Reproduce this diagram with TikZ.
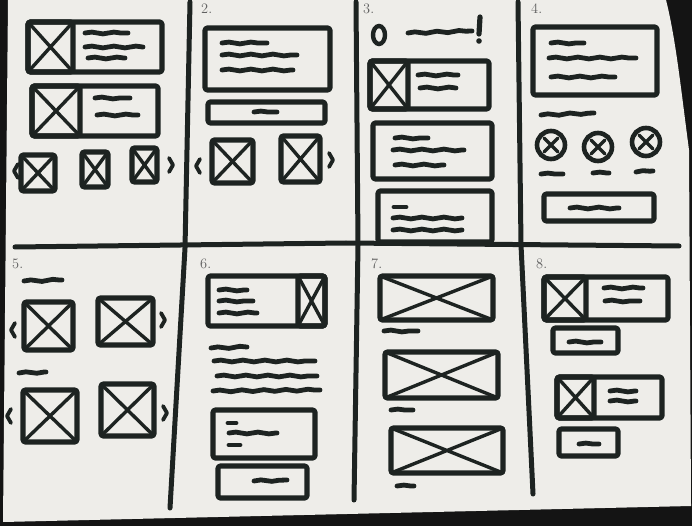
\documentclass[tikz,border=0pt]{standalone}
\usepackage{tikz}
\usetikzlibrary{decorations.pathmorphing}
\definecolor{inkc}{HTML}{1D2321}
\definecolor{paper}{HTML}{EEEDE9}
\definecolor{bgdark}{HTML}{141414}

\begin{document}
\begin{tikzpicture}[x=1pt,y=-1pt,
	ink/.style={draw=inkc, line width=5.2pt, line cap=round, line join=round, rounded corners=2.5pt},
	cross/.style={draw=inkc, line width=3.4pt, line cap=round},
	txt/.style={draw=inkc, line width=4.8pt, line cap=round, decorate, decoration={snake, amplitude=0.9pt, segment length=22pt}},
	rule/.style={draw=inkc, line width=5pt, line cap=round, line join=round},
	chev/.style={draw=inkc, line width=3.8pt, line cap=round, line join=round},
	num/.style={text=gray!75!black, font=\Large, anchor=west, inner sep=0pt}]
		\useasboundingbox (0,0) rectangle (692,526);
		\def\xbox#1#2#3#4{\draw[ink] (#1,#2) rectangle (#3,#4); \draw[cross] (#1,#2) -- (#3,#4) (#1,#4) -- (#3,#2);}
		\def\lt#1#2{\draw[chev] (#1+4,#2-7) -- (#1,#2) -- (#1+4,#2+7);}
		\def\gt#1#2{\draw[chev] (#1-4,#2-7) -- (#1,#2) -- (#1-4,#2+7);}

		% --- paper on the dark table ---
		\fill[bgdark] (0,0) rectangle (692,526);
		\fill[paper] (8,0) -- (666,0) .. controls (676,40) and (681,90) .. (689,150) -- (691,506) -- (3,522) -- cycle;

		% --- grid ---
		\draw[rule] (190,2) -- (185,248) -- (170,508);
		\draw[rule] (356,2) -- (358,245) -- (354,500);
		\draw[rule] (518,2) -- (521,245) -- (533,494);
		\draw[rule] (15,247) -- (346,243) -- (679,246);

		% --- PANEL 1: image rows and thumbnails ---
		\draw[ink] (28,22) rectangle (162,72);
		\xbox{28}{22}{73}{72}
		\draw[txt] (85,33) -- (128,33);
		\draw[txt] (85,47) -- (143,47);
		\draw[txt] (88,58) -- (125,58);
		\draw[ink] (32,86) rectangle (158,136);
		\xbox{32}{86}{80}{136}
		\draw[txt] (95,98) -- (130,98);
		\draw[txt] (97,115) -- (138,115);
		\xbox{21}{155}{55}{191}
		\xbox{82}{152}{108}{187}
		\xbox{132}{148}{157}{182}
		\lt{14}{171}
		\gt{173}{165}

		% --- PANEL 2: card, bar, carousel ---
		\node[num] (n2) at (201,9) {2.};
		\draw[ink] (205,28) rectangle (330,90);
		\draw[txt] (222,43) -- (267,43);
		\draw[txt] (222,55) -- (297,55);
		\draw[txt] (222,70) -- (293,70);
		\draw[ink] (208,102) rectangle (325,123);
		\draw[txt] (254,112) -- (277,112);
		\xbox{212}{140}{253}{183}
		\xbox{281}{136}{320}{182}
		\lt{196}{166}
		\gt{333}{160}

		% --- PANEL 3: alert and cards ---
		\node[num] (n3) at (363,9) {3.};
		\draw[draw=inkc, line width=4.4pt] (379,35) ellipse (6 and 9);
		\draw[txt] (408,33) -- (472,31);
		\draw[ink] (480,17) -- (479,34);
		\fill[inkc] (479,41) circle (2.8);
		\draw[ink] (370,61) rectangle (489,109);
		\xbox{370}{61}{408}{109}
		\draw[txt] (418,75) -- (458,75);
		\draw[txt] (420,88) -- (456,88);
		\draw[ink] (373,123) rectangle (492,179);
		\draw[txt] (395,138) -- (428,138);
		\draw[txt] (393,150) -- (464,150);
		\draw[txt] (395,165) -- (444,165);
		\draw[ink] (378,191) rectangle (492,242);
		\draw[txt] (394,207) -- (406,207);
		\draw[txt] (393,218) -- (462,218);
		\draw[txt] (393,230) -- (462,230);

		% --- PANEL 4: card, options, button ---
		\node[num] (n4) at (531,9) {4.};
		\draw[ink] (533,27) rectangle (657,95);
		\draw[txt] (551,43) -- (584,43);
		\draw[txt] (549,58) -- (636,58);
		\draw[txt] (551,77) -- (615,77);
		\draw[txt] (541,115) -- (594,113);
		\foreach \cx/\cy in {551/145, 598/147, 646/142} {
			\draw[draw=inkc, line width=4.6pt] (\cx,\cy) circle (14);
			\draw[cross] (\cx-7,\cy-7) -- (\cx+7,\cy+7) (\cx-7,\cy+7) -- (\cx+7,\cy-7);
		}
		\draw[txt] (541,174) -- (563,174);
		\draw[txt] (593,173) -- (609,173);
		\draw[txt] (636,172) -- (653,171);
		\draw[ink] (544,194) rectangle (654,221);
		\draw[txt] (570,208) -- (619,208);

		% --- PANEL 5: two carousels ---
		\node[num] (n5) at (12,264) {5.};
		\draw[txt] (24,281) -- (62,280);
		\xbox{24}{302}{73}{350}
		\xbox{98}{298}{153}{345}
		\lt{11}{330}
		\gt{165}{320}
		\draw[txt] (19,373) -- (46,372);
		\xbox{23}{390}{77}{442}
		\xbox{101}{384}{154}{436}
		\lt{7}{416}
		\gt{167}{413}

		% --- PANEL 6: row, paragraph, cards ---
		\node[num] (n6) at (200,264) {6.};
		\draw[ink] (208,276) rectangle (325,326);
		\xbox{298}{276}{325}{326}
		\draw[txt] (219,290) -- (247,290);
		\draw[txt] (219,301) -- (253,301);
		\draw[txt] (219,313) -- (257,313);
		\draw[txt] (211,348) -- (247,347);
		\draw[txt] (214,361) -- (315,361);
		\draw[txt] (217,376) -- (317,376);
		\draw[txt] (213,391) -- (320,390);
		\draw[ink] (213,410) rectangle (315,458);
		\draw[txt] (228,423) -- (236,423);
		\draw[txt] (229,433) -- (277,433);
		\draw[txt] (229,445) -- (240,445);
		\draw[ink] (218,466) rectangle (307,498);
		\draw[txt] (254,481) -- (287,480);

		% --- PANEL 7: wide images with captions ---
		\node[num] (n7) at (371,264) {7.};
		\xbox{380}{276}{493}{320}
		\draw[txt] (384,331) -- (418,331);
		\xbox{385}{352}{498}{398}
		\draw[txt] (391,410) -- (413,410);
		\xbox{391}{428}{503}{473}
		\draw[txt] (397,486) -- (414,486);

		% --- PANEL 8: rows with buttons ---
		\node[num] (n8) at (536,264) {8.};
		\draw[ink] (544,277) rectangle (668,320);
		\xbox{544}{277}{586}{320}
		\draw[txt] (604,288) -- (643,288);
		\draw[txt] (605,301) -- (640,301);
		\draw[ink] (553,328) rectangle (618,353);
		\draw[txt] (569,342) -- (601,342);
		\draw[ink] (557,377) rectangle (662,418);
		\xbox{557}{377}{594}{418}
		\draw[txt] (610,391) -- (636,391);
		\draw[txt] (610,401) -- (636,401);
		\draw[ink] (559,429) rectangle (618,456);
		\draw[txt] (579,444) -- (599,444);
	\end{tikzpicture}
\end{document}
